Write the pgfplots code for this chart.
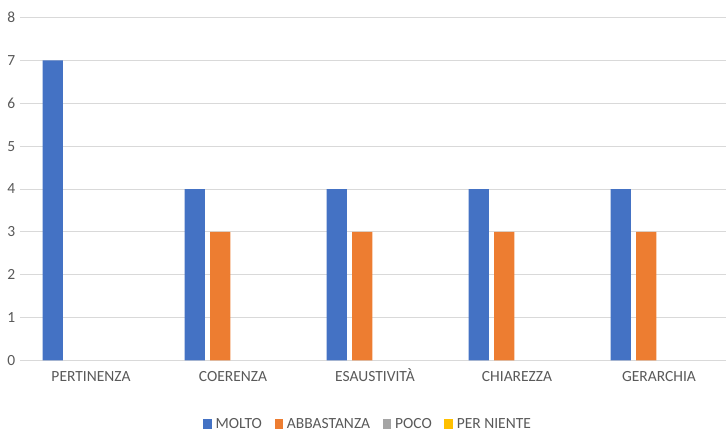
\documentclass[border=0pt]{standalone}
\usepackage{fontspec}
\setmainfont{Carlito}
\usepackage{pgfplots}
\pgfplotsset{compat=1.18}
\definecolor{xlBlue}{HTML}{4472C4}
\definecolor{xlOrange}{HTML}{ED7D31}
\definecolor{xlGray}{HTML}{A5A5A5}
\definecolor{xlYellow}{HTML}{FFC000}
\definecolor{xlText}{HTML}{595959}
\definecolor{xlGrid}{HTML}{D9D9D9}

\begin{document}
\begin{tikzpicture}
\begin{axis}[
  at={(20pt,70.5pt)}, anchor=south west,
  scale only axis, width=706pt, height=343pt,
  ybar=5.2pt, bar width=20.3pt,
  xmin=-0.5, xmax=4.472, ymin=0, ymax=8,
  xtick={0,...,4},
  xticklabels={PERTINENZA,COERENZA,ESAUSTIVITÀ,CHIAREZZA,GERARCHIA},
  ytick={0,...,8},
  axis line style={draw=none},
  major tick length=0pt,
  ymajorgrids, major grid style={xlGrid,line width=1pt},
  tick label style={font=\fontsize{15.5}{17}\selectfont,text=xlText},
  /pgf/number format/assume math mode=true,
  yticklabel style={inner sep=0pt,xshift=-4.5pt},
  xticklabel style={inner sep=0pt,anchor=north,text height=10pt,yshift=-10.5pt},
  legend style={at={(0.493,-0.185)},anchor=center,draw=none,fill=none,
    legend columns=-1,font=\fontsize{15.5}{17}\selectfont,text=xlText,
    /tikz/every even column/.append style={column sep=10.5pt}},
  legend image code/.code={\fill[#1] (0pt,-4.8pt) rectangle (8.5pt,4.8pt);\path (10.5pt,0pt);},
]
\addplot[fill=xlBlue,draw=none] coordinates {(0,7)(1,4)(2,4)(3,4)(4,4)};
\addplot[fill=xlOrange,draw=none] coordinates {(1,3)(2,3)(3,3)(4,3)};
\addplot[fill=none,draw=none,
  legend image code/.code={\fill[xlGray] (0pt,-4.8pt) rectangle (8.5pt,4.8pt);\path (10.5pt,0pt);}]
  coordinates {(0,0)(1,0)(2,0)(3,0)(4,0)};
\addplot[fill=none,draw=none,
  legend image code/.code={\fill[xlYellow] (0pt,-4.8pt) rectangle (8.5pt,4.8pt);\path (10.5pt,0pt);}]
  coordinates {(0,0)(1,0)(2,0)(3,0)(4,0)};
\legend{MOLTO,ABBASTANZA,POCO,PER NIENTE}
\end{axis}
\pgfresetboundingbox
\useasboundingbox (0,0) rectangle (726pt,431pt);
\end{tikzpicture}
\end{document}
